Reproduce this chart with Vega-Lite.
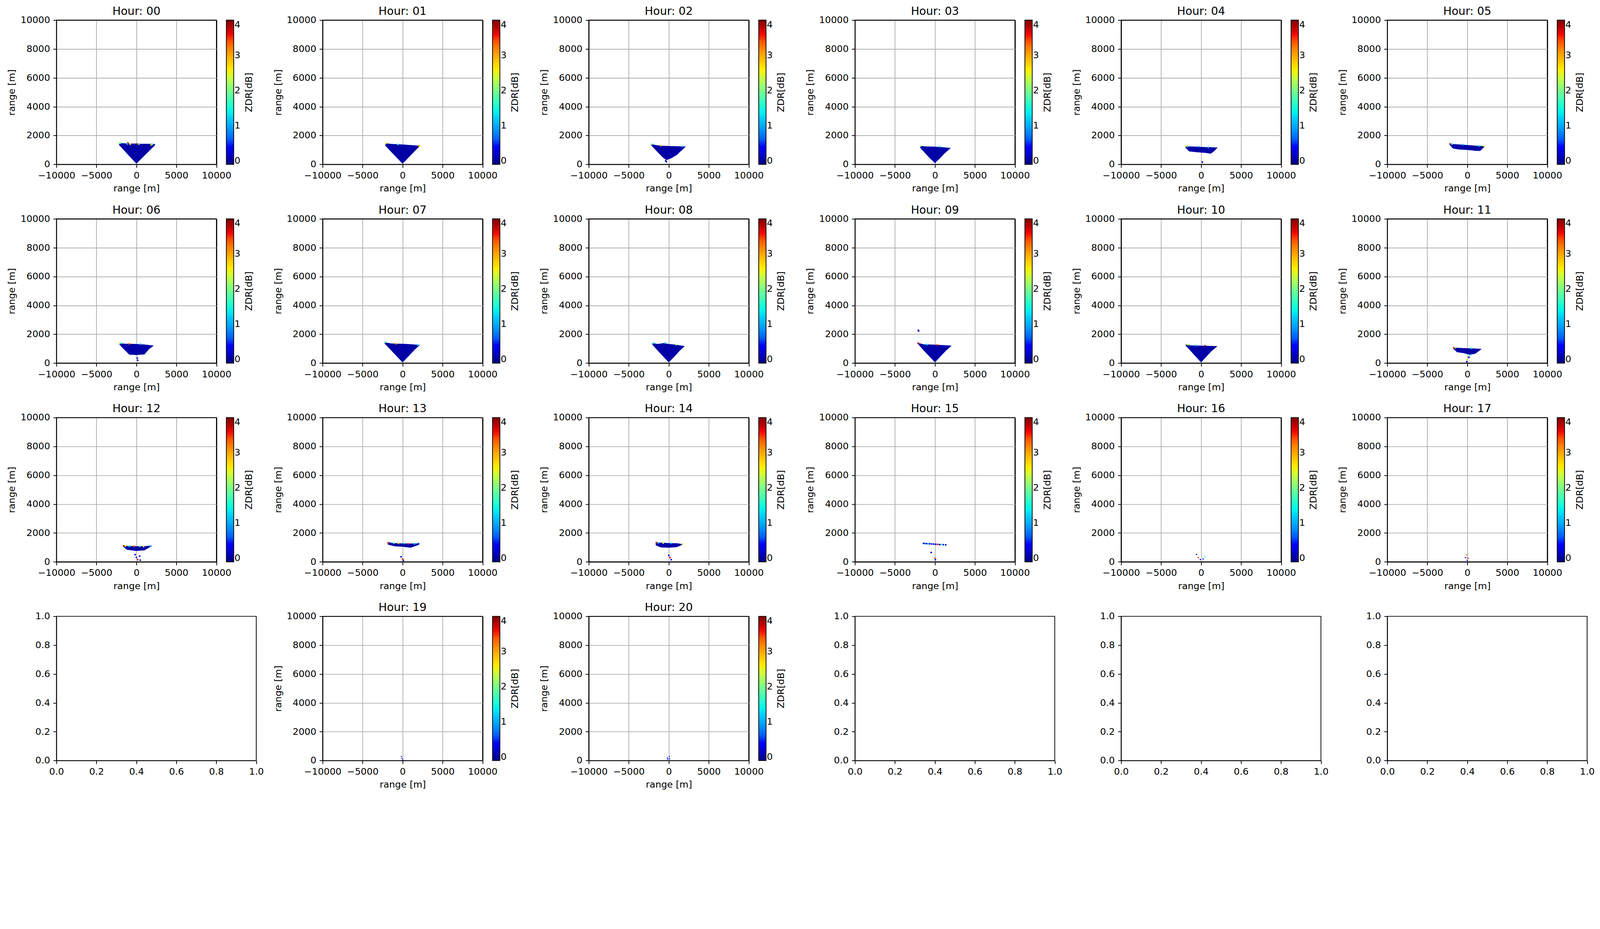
{
  "$schema": "https://vega.github.io/schema/vega-lite/v6.json",
  "background": "white",
  "padding": {"left": 17.5, "top": 13.5, "right": 0, "bottom": 0},
  "columns": 6,
  "align": "all",
  "spacing": {"row": 138.7, "column": 169.4},
  "bounds": "flush",
  "datasets": {
    "wedge": [
      {"h": "00", "x": -2170, "lo": 1340, "hi": 1480, "z": 0.04},
      {"h": "00", "x": -1800, "lo": 1120, "hi": 1470, "z": 0.04},
      {"h": "00", "x": -1200, "lo": 760, "hi": 1450, "z": 0.04},
      {"h": "00", "x": -600, "lo": 400, "hi": 1440, "z": 0.04},
      {"h": "00", "x": 0, "lo": 50, "hi": 1440, "z": 0.04},
      {"h": "00", "x": 600, "lo": 380, "hi": 1430, "z": 0.04},
      {"h": "00", "x": 1200, "lo": 710, "hi": 1430, "z": 0.04},
      {"h": "00", "x": 1800, "lo": 1040, "hi": 1420, "z": 0.04},
      {"h": "00", "x": 2320, "lo": 1330, "hi": 1410, "z": 0.04},
      {"h": "01", "x": -2170, "lo": 1300, "hi": 1470, "z": 0.04},
      {"h": "01", "x": -1500, "lo": 910, "hi": 1420, "z": 0.04},
      {"h": "01", "x": -750, "lo": 475, "hi": 1400, "z": 0.04},
      {"h": "01", "x": 0, "lo": 40, "hi": 1380, "z": 0.04},
      {"h": "01", "x": 750, "lo": 475, "hi": 1350, "z": 0.04},
      {"h": "01", "x": 1500, "lo": 910, "hi": 1320, "z": 0.04},
      {"h": "01", "x": 2140, "lo": 1270, "hi": 1290, "z": 0.04},
      {"h": "02", "x": -2210, "lo": 1330, "hi": 1410, "z": 0.04},
      {"h": "02", "x": -1500, "lo": 910, "hi": 1330, "z": 0.04},
      {"h": "02", "x": -750, "lo": 480, "hi": 1290, "z": 0.04},
      {"h": "02", "x": -300, "lo": 300, "hi": 1280, "z": 0.04},
      {"h": "02", "x": 300, "lo": 420, "hi": 1270, "z": 0.04},
      {"h": "02", "x": 1000, "lo": 650, "hi": 1260, "z": 0.04},
      {"h": "02", "x": 1600, "lo": 960, "hi": 1250, "z": 0.04},
      {"h": "02", "x": 2115, "lo": 1230, "hi": 1240, "z": 0.04},
      {"h": "03", "x": -1845, "lo": 1150, "hi": 1280, "z": 0.04},
      {"h": "03", "x": -1200, "lo": 760, "hi": 1250, "z": 0.04},
      {"h": "03", "x": -600, "lo": 400, "hi": 1240, "z": 0.04},
      {"h": "03", "x": 0, "lo": 100, "hi": 1230, "z": 0.04},
      {"h": "03", "x": 600, "lo": 400, "hi": 1210, "z": 0.04},
      {"h": "03", "x": 1200, "lo": 760, "hi": 1180, "z": 0.04},
      {"h": "03", "x": 1970, "lo": 1130, "hi": 1140, "z": 0.04},
      {"h": "04", "x": -1950, "lo": 1150, "hi": 1270, "z": 0.04},
      {"h": "04", "x": -1500, "lo": 900, "hi": 1250, "z": 0.04},
      {"h": "04", "x": -500, "lo": 840, "hi": 1230, "z": 0.04},
      {"h": "04", "x": 500, "lo": 800, "hi": 1200, "z": 0.04},
      {"h": "04", "x": 1200, "lo": 740, "hi": 1190, "z": 0.04},
      {"h": "04", "x": 1600, "lo": 900, "hi": 1180, "z": 0.04},
      {"h": "04", "x": 2016, "lo": 1130, "hi": 1170, "z": 0.04},
      {"h": "05", "x": -2200, "lo": 1350, "hi": 1430, "z": 0.04},
      {"h": "05", "x": -1800, "lo": 1100, "hi": 1410, "z": 0.04},
      {"h": "05", "x": -1000, "lo": 1030, "hi": 1380, "z": 0.04},
      {"h": "05", "x": 0, "lo": 1000, "hi": 1340, "z": 0.04},
      {"h": "05", "x": 1000, "lo": 940, "hi": 1300, "z": 0.04},
      {"h": "05", "x": 1600, "lo": 930, "hi": 1280, "z": 0.04},
      {"h": "05", "x": 2170, "lo": 1230, "hi": 1270, "z": 0.04},
      {"h": "06", "x": -2144, "lo": 1290, "hi": 1380, "z": 0.04},
      {"h": "06", "x": -1500, "lo": 920, "hi": 1350, "z": 0.04},
      {"h": "06", "x": -900, "lo": 590, "hi": 1340, "z": 0.04},
      {"h": "06", "x": 0, "lo": 560, "hi": 1330, "z": 0.04},
      {"h": "06", "x": 1000, "lo": 600, "hi": 1290, "z": 0.04},
      {"h": "06", "x": 1600, "lo": 980, "hi": 1250, "z": 0.04},
      {"h": "06", "x": 2144, "lo": 1200, "hi": 1220, "z": 0.04},
      {"h": "07", "x": -2265, "lo": 1370, "hi": 1450, "z": 0.04},
      {"h": "07", "x": -1500, "lo": 920, "hi": 1370, "z": 0.04},
      {"h": "07", "x": -750, "lo": 480, "hi": 1350, "z": 0.04},
      {"h": "07", "x": 0, "lo": 50, "hi": 1340, "z": 0.04},
      {"h": "07", "x": 750, "lo": 480, "hi": 1320, "z": 0.04},
      {"h": "07", "x": 1500, "lo": 920, "hi": 1290, "z": 0.04},
      {"h": "07", "x": 2140, "lo": 1250, "hi": 1260, "z": 0.04},
      {"h": "08", "x": -2050, "lo": 1280, "hi": 1400, "z": 0.04},
      {"h": "08", "x": -1400, "lo": 870, "hi": 1330, "z": 0.04},
      {"h": "08", "x": -600, "lo": 400, "hi": 1390, "z": 0.04},
      {"h": "08", "x": 0, "lo": 50, "hi": 1330, "z": 0.04},
      {"h": "08", "x": 700, "lo": 450, "hi": 1290, "z": 0.04},
      {"h": "08", "x": 1400, "lo": 870, "hi": 1230, "z": 0.04},
      {"h": "08", "x": 1990, "lo": 1170, "hi": 1180, "z": 0.04},
      {"h": "09", "x": -2100, "lo": 1310, "hi": 1400, "z": 0.04},
      {"h": "09", "x": -1400, "lo": 870, "hi": 1300, "z": 0.04},
      {"h": "09", "x": -700, "lo": 470, "hi": 1290, "z": 0.04},
      {"h": "09", "x": 0, "lo": 50, "hi": 1280, "z": 0.04},
      {"h": "09", "x": 700, "lo": 470, "hi": 1260, "z": 0.04},
      {"h": "09", "x": 1400, "lo": 870, "hi": 1240, "z": 0.04},
      {"h": "09", "x": 2070, "lo": 1200, "hi": 1215, "z": 0.04},
      {"h": "10", "x": -1920, "lo": 1200, "hi": 1300, "z": 0.04},
      {"h": "10", "x": -1300, "lo": 830, "hi": 1230, "z": 0.04},
      {"h": "10", "x": -650, "lo": 440, "hi": 1220, "z": 0.04},
      {"h": "10", "x": 0, "lo": 50, "hi": 1210, "z": 0.04},
      {"h": "10", "x": 650, "lo": 440, "hi": 1200, "z": 0.04},
      {"h": "10", "x": 1300, "lo": 830, "hi": 1190, "z": 0.04},
      {"h": "10", "x": 2016, "lo": 1160, "hi": 1176, "z": 0.04},
      {"h": "11", "x": -1755, "lo": 1000, "hi": 1080, "z": 0.04},
      {"h": "11", "x": -1300, "lo": 760, "hi": 1060, "z": 0.04},
      {"h": "11", "x": -500, "lo": 700, "hi": 1040, "z": 0.04},
      {"h": "11", "x": 300, "lo": 580, "hi": 1030, "z": 0.04},
      {"h": "11", "x": 1000, "lo": 650, "hi": 1010, "z": 0.04},
      {"h": "11", "x": 1755, "lo": 960, "hi": 990, "z": 0.04},
      {"h": "12", "x": -1660, "lo": 1060, "hi": 1120, "z": 0.04},
      {"h": "12", "x": -1200, "lo": 840, "hi": 1100, "z": 0.04},
      {"h": "12", "x": 0, "lo": 760, "hi": 1080, "z": 0.04},
      {"h": "12", "x": 1000, "lo": 800, "hi": 1090, "z": 0.04},
      {"h": "12", "x": 1890, "lo": 1080, "hi": 1130, "z": 0.04},
      {"h": "13", "x": -1850, "lo": 1200, "hi": 1330, "z": 0.04},
      {"h": "13", "x": -1000, "lo": 1080, "hi": 1300, "z": 0.04},
      {"h": "13", "x": 0, "lo": 1050, "hi": 1280, "z": 0.04},
      {"h": "13", "x": 1000, "lo": 980, "hi": 1270, "z": 0.04},
      {"h": "13", "x": 2070, "lo": 1180, "hi": 1280, "z": 0.04},
      {"h": "14", "x": -1630, "lo": 1150, "hi": 1350, "z": 0.04},
      {"h": "14", "x": -1000, "lo": 1000, "hi": 1330, "z": 0.04},
      {"h": "14", "x": 0, "lo": 980, "hi": 1300, "z": 0.04},
      {"h": "14", "x": 1000, "lo": 1020, "hi": 1290, "z": 0.04},
      {"h": "14", "x": 1730, "lo": 1180, "hi": 1230, "z": 0.04}
    ],
    "spk": [
      {"h": "00", "x": -2127, "y": 1470, "z": 2.3},
      {"h": "00", "x": -1988, "y": 1480, "z": 1.7},
      {"h": "00", "x": -1070, "y": 1480, "z": 3.9},
      {"h": "00", "x": -778, "y": 1400, "z": 2.6},
      {"h": "00", "x": -1154, "y": 1420, "z": 1.2},
      {"h": "00", "x": 97, "y": 1410, "z": 3.7},
      {"h": "00", "x": 306, "y": 1400, "z": 1.8},
      {"h": "00", "x": 1835, "y": 1350, "z": 2.7},
      {"h": "00", "x": 2000, "y": 1390, "z": 1.4},
      {"h": "01", "x": -2100, "y": 1450, "z": 2.5},
      {"h": "01", "x": -600, "y": 1390, "z": 1.5},
      {"h": "01", "x": 2050, "y": 1280, "z": 3.4},
      {"h": "01", "x": 2120, "y": 1285, "z": 2.8},
      {"h": "02", "x": -2150, "y": 1400, "z": 1.9},
      {"h": "02", "x": -1000, "y": 1300, "z": 3.0},
      {"h": "02", "x": 1700, "y": 1250, "z": 1.2},
      {"h": "02", "x": -385, "y": 255, "z": 0.2},
      {"h": "02", "x": -300, "y": 180, "z": 0.1},
      {"h": "03", "x": -1800, "y": 1270, "z": 2.0},
      {"h": "03", "x": 600, "y": 1220, "z": 1.3},
      {"h": "03", "x": 30, "y": 150, "z": 0.2},
      {"h": "04", "x": -1900, "y": 1260, "z": 2.6},
      {"h": "04", "x": -1700, "y": 1250, "z": 1.6},
      {"h": "04", "x": -300, "y": 1230, "z": 0.9},
      {"h": "04", "x": 160, "y": 157, "z": 0.2},
      {"h": "04", "x": 900, "y": 1190, "z": 1.3},
      {"h": "05", "x": -2150, "y": 1420, "z": 3.6},
      {"h": "05", "x": -1900, "y": 1410, "z": 1.4},
      {"h": "05", "x": -500, "y": 1370, "z": 1.1},
      {"h": "05", "x": 1500, "y": 1290, "z": 1.5},
      {"h": "05", "x": 2100, "y": 1270, "z": 2.4},
      {"h": "06", "x": -2100, "y": 1370, "z": 2.4},
      {"h": "06", "x": -1950, "y": 1370, "z": 1.4},
      {"h": "06", "x": -900, "y": 1340, "z": 3.3},
      {"h": "06", "x": 500, "y": 1320, "z": 1.2},
      {"h": "06", "x": 160, "y": 200, "z": 0.3},
      {"h": "06", "x": 100, "y": 350, "z": 0.2},
      {"h": "07", "x": -2200, "y": 1440, "z": 1.6},
      {"h": "07", "x": -800, "y": 1350, "z": 2.9},
      {"h": "07", "x": 1900, "y": 1260, "z": 1.3},
      {"h": "08", "x": -1900, "y": 1390, "z": 1.5},
      {"h": "08", "x": -500, "y": 1390, "z": 1.1},
      {"h": "08", "x": 900, "y": 1290, "z": 2.2},
      {"h": "09", "x": -2100, "y": 1380, "z": 3.8},
      {"h": "09", "x": -2067, "y": 2274, "z": 0.3},
      {"h": "09", "x": -2040, "y": 2230, "z": 0.2},
      {"h": "09", "x": -1000, "y": 1290, "z": 1.4},
      {"h": "09", "x": 300, "y": 1270, "z": 3.4},
      {"h": "10", "x": -1700, "y": 1290, "z": 2.6},
      {"h": "10", "x": -1500, "y": 1270, "z": 1.9},
      {"h": "10", "x": 500, "y": 1200, "z": 3.8},
      {"h": "10", "x": -600, "y": 1220, "z": 1.2},
      {"h": "11", "x": -1700, "y": 1075, "z": 3.5},
      {"h": "11", "x": -1500, "y": 1065, "z": 2.0},
      {"h": "11", "x": 500, "y": 1030, "z": 1.6},
      {"h": "11", "x": -64, "y": 250, "z": 2.5},
      {"h": "11", "x": -64, "y": 100, "z": 0.3},
      {"h": "11", "x": 200, "y": 400, "z": 0.2},
      {"h": "11", "x": 300, "y": 550, "z": 1.4},
      {"h": "12", "x": -1600, "y": 1110, "z": 3.8},
      {"h": "12", "x": -1400, "y": 1100, "z": 2.6},
      {"h": "12", "x": -900, "y": 1090, "z": 1.5},
      {"h": "12", "x": -300, "y": 1085, "z": 3.3},
      {"h": "12", "x": 400, "y": 1080, "z": 1.8},
      {"h": "12", "x": 900, "y": 1060, "z": 2.4},
      {"h": "12", "x": 1700, "y": 1110, "z": 1.2},
      {"h": "12", "x": -160, "y": 500, "z": 0.3},
      {"h": "12", "x": 0, "y": 300, "z": 0.2},
      {"h": "12", "x": 160, "y": 150, "z": 3.6},
      {"h": "12", "x": 400, "y": 400, "z": 0.3},
      {"h": "12", "x": 480, "y": 120, "z": 0.2},
      {"h": "13", "x": -1800, "y": 1320, "z": 3.7},
      {"h": "13", "x": -1600, "y": 1300, "z": 0.3},
      {"h": "13", "x": -1100, "y": 1290, "z": 1.6},
      {"h": "13", "x": -500, "y": 1280, "z": 2.9},
      {"h": "13", "x": 200, "y": 1270, "z": 1.3},
      {"h": "13", "x": 700, "y": 1260, "z": 3.4},
      {"h": "13", "x": 1500, "y": 1250, "z": 1.2},
      {"h": "13", "x": 2000, "y": 1270, "z": 0.5},
      {"h": "13", "x": -190, "y": 350, "z": 0.3},
      {"h": "13", "x": 0, "y": 200, "z": 3.5},
      {"h": "13", "x": 95, "y": 100, "z": 0.2},
      {"h": "14", "x": -1550, "y": 1330, "z": 3.7},
      {"h": "14", "x": -1300, "y": 1320, "z": 1.5},
      {"h": "14", "x": -700, "y": 1300, "z": 2.3},
      {"h": "14", "x": 300, "y": 1290, "z": 1.2},
      {"h": "14", "x": 1700, "y": 1220, "z": 2.8},
      {"h": "14", "x": 0, "y": 450, "z": 0.3},
      {"h": "14", "x": 150, "y": 300, "z": 3.6},
      {"h": "14", "x": 300, "y": 150, "z": 0.2},
      {"h": "15", "x": -1430, "y": 1280, "z": 0.3},
      {"h": "15", "x": -1250, "y": 1270, "z": 0.6},
      {"h": "15", "x": -1050, "y": 1265, "z": 0.2},
      {"h": "15", "x": -850, "y": 1260, "z": 1.3},
      {"h": "15", "x": -650, "y": 1250, "z": 0.1},
      {"h": "15", "x": -400, "y": 1240, "z": 0.4},
      {"h": "15", "x": -150, "y": 1230, "z": 0.2},
      {"h": "15", "x": 100, "y": 1220, "z": 0.3},
      {"h": "15", "x": 350, "y": 1210, "z": 3.7},
      {"h": "15", "x": 600, "y": 1200, "z": 0.1},
      {"h": "15", "x": 800, "y": 1200, "z": 1.6},
      {"h": "15", "x": 1050, "y": 1190, "z": 0.3},
      {"h": "15", "x": 1350, "y": 1180, "z": 0.2},
      {"h": "15", "x": -477, "y": 650, "z": 0.2},
      {"h": "15", "x": 0, "y": 255, "z": 3.4},
      {"h": "15", "x": 60, "y": 150, "z": 0.3},
      {"h": "16", "x": -576, "y": 510, "z": 0.1},
      {"h": "16", "x": -352, "y": 294, "z": 3.6},
      {"h": "16", "x": -96, "y": 157, "z": 0.3},
      {"h": "16", "x": 480, "y": 353, "z": 1.5},
      {"h": "16", "x": 250, "y": 200, "z": 0.2},
      {"h": "17", "x": -64, "y": 490, "z": 3.3},
      {"h": "17", "x": 96, "y": 255, "z": 3.7},
      {"h": "17", "x": -223, "y": 294, "z": 0.2},
      {"h": "17", "x": 0, "y": 100, "z": 0.3},
      {"h": "19", "x": -150, "y": 280, "z": 0.3},
      {"h": "19", "x": -60, "y": 150, "z": 0.2},
      {"h": "19", "x": 30, "y": 40, "z": 0.4},
      {"h": "20", "x": -170, "y": 180, "z": 0.3},
      {"h": "20", "x": -120, "y": 100, "z": 0.2},
      {"h": "20", "x": 80, "y": 280, "z": 0.4},
      {"h": "20", "x": 110, "y": 120, "z": 0.3}
    ]
  },
  "concat": [
    {"title": "Hour: 00", "width": 409.5, "height": 369.3,
     "encoding": {
       "x": {"field": "x", "type": "quantitative", "title": "range [m]", "scale": {"domain": [-10000, 10000]}, "axis": {"values": [-10000, -5000, 0, 5000, 10000], "format": "d", "gridColor": {"condition": {"test": "abs(datum.value) == 10000", "value": "black"}, "value": "#b0b0b0"}}},
       "color": {"field": "z", "type": "quantitative", "scale": {"domain": [-0.1, 0.351, 0.4125, 1.294, 1.335, 1.4375, 2.524, 2.565, 2.606, 3.549, 3.631, 4], "range": ["#000080", "#0000ff", "#0000ff", "#00dbff", "#00e5f7", "#14ffe2", "#eeff08", "#f7f500", "#ffec00", "#ff1300", "#e80000", "#800000"]}, "legend": {"title": "ZDR[dB]", "values": [0, 1, 2, 3, 4], "format": "d", "encoding": {"title": {"angle": {"value": 270}, "baseline": {"value": "top"}}}}}
     },
     "layer": [
       {"data": {"name": "wedge"}, "transform": [{"filter": "datum.h == '00'"}], "mark": "area",
        "encoding": {"y": {"field": "lo", "type": "quantitative", "title": "range [m]", "scale": {"domain": [0, 10000]}, "axis": {"values": [0, 2000, 4000, 6000, 8000, 10000], "format": "d", "gridColor": {"condition": {"test": "datum.value == 0 || datum.value == 10000", "value": "black"}, "value": "#b0b0b0"}}}, "y2": {"field": "hi"}}},
       {"data": {"name": "spk"}, "transform": [{"filter": "datum.h == '00'"}], "mark": {"type": "square", "size": 15, "opacity": 1},
        "encoding": {"y": {"field": "y", "type": "quantitative", "title": "range [m]"}}}
     ]},
    {"title": "Hour: 01", "width": 409.5, "height": 369.3,
     "encoding": {
       "x": {"field": "x", "type": "quantitative", "title": "range [m]", "scale": {"domain": [-10000, 10000]}, "axis": {"values": [-10000, -5000, 0, 5000, 10000], "format": "d", "gridColor": {"condition": {"test": "abs(datum.value) == 10000", "value": "black"}, "value": "#b0b0b0"}}},
       "color": {"field": "z", "type": "quantitative", "scale": {"domain": [-0.1, 0.351, 0.4125, 1.294, 1.335, 1.4375, 2.524, 2.565, 2.606, 3.549, 3.631, 4], "range": ["#000080", "#0000ff", "#0000ff", "#00dbff", "#00e5f7", "#14ffe2", "#eeff08", "#f7f500", "#ffec00", "#ff1300", "#e80000", "#800000"]}, "legend": {"title": "ZDR[dB]", "values": [0, 1, 2, 3, 4], "format": "d", "encoding": {"title": {"angle": {"value": 270}, "baseline": {"value": "top"}}}}}
     },
     "layer": [
       {"data": {"name": "wedge"}, "transform": [{"filter": "datum.h == '01'"}], "mark": "area",
        "encoding": {"y": {"field": "lo", "type": "quantitative", "title": "range [m]", "scale": {"domain": [0, 10000]}, "axis": {"values": [0, 2000, 4000, 6000, 8000, 10000], "format": "d", "gridColor": {"condition": {"test": "datum.value == 0 || datum.value == 10000", "value": "black"}, "value": "#b0b0b0"}}}, "y2": {"field": "hi"}}},
       {"data": {"name": "spk"}, "transform": [{"filter": "datum.h == '01'"}], "mark": {"type": "square", "size": 15, "opacity": 1},
        "encoding": {"y": {"field": "y", "type": "quantitative", "title": "range [m]"}}}
     ]},
    {"title": "Hour: 02", "width": 409.5, "height": 369.3,
     "encoding": {
       "x": {"field": "x", "type": "quantitative", "title": "range [m]", "scale": {"domain": [-10000, 10000]}, "axis": {"values": [-10000, -5000, 0, 5000, 10000], "format": "d", "gridColor": {"condition": {"test": "abs(datum.value) == 10000", "value": "black"}, "value": "#b0b0b0"}}},
       "color": {"field": "z", "type": "quantitative", "scale": {"domain": [-0.1, 0.351, 0.4125, 1.294, 1.335, 1.4375, 2.524, 2.565, 2.606, 3.549, 3.631, 4], "range": ["#000080", "#0000ff", "#0000ff", "#00dbff", "#00e5f7", "#14ffe2", "#eeff08", "#f7f500", "#ffec00", "#ff1300", "#e80000", "#800000"]}, "legend": {"title": "ZDR[dB]", "values": [0, 1, 2, 3, 4], "format": "d", "encoding": {"title": {"angle": {"value": 270}, "baseline": {"value": "top"}}}}}
     },
     "layer": [
       {"data": {"name": "wedge"}, "transform": [{"filter": "datum.h == '02'"}], "mark": "area",
        "encoding": {"y": {"field": "lo", "type": "quantitative", "title": "range [m]", "scale": {"domain": [0, 10000]}, "axis": {"values": [0, 2000, 4000, 6000, 8000, 10000], "format": "d", "gridColor": {"condition": {"test": "datum.value == 0 || datum.value == 10000", "value": "black"}, "value": "#b0b0b0"}}}, "y2": {"field": "hi"}}},
       {"data": {"name": "spk"}, "transform": [{"filter": "datum.h == '02'"}], "mark": {"type": "square", "size": 15, "opacity": 1},
        "encoding": {"y": {"field": "y", "type": "quantitative", "title": "range [m]"}}}
     ]},
    {"title": "Hour: 03", "width": 409.5, "height": 369.3,
     "encoding": {
       "x": {"field": "x", "type": "quantitative", "title": "range [m]", "scale": {"domain": [-10000, 10000]}, "axis": {"values": [-10000, -5000, 0, 5000, 10000], "format": "d", "gridColor": {"condition": {"test": "abs(datum.value) == 10000", "value": "black"}, "value": "#b0b0b0"}}},
       "color": {"field": "z", "type": "quantitative", "scale": {"domain": [-0.1, 0.351, 0.4125, 1.294, 1.335, 1.4375, 2.524, 2.565, 2.606, 3.549, 3.631, 4], "range": ["#000080", "#0000ff", "#0000ff", "#00dbff", "#00e5f7", "#14ffe2", "#eeff08", "#f7f500", "#ffec00", "#ff1300", "#e80000", "#800000"]}, "legend": {"title": "ZDR[dB]", "values": [0, 1, 2, 3, 4], "format": "d", "encoding": {"title": {"angle": {"value": 270}, "baseline": {"value": "top"}}}}}
     },
     "layer": [
       {"data": {"name": "wedge"}, "transform": [{"filter": "datum.h == '03'"}], "mark": "area",
        "encoding": {"y": {"field": "lo", "type": "quantitative", "title": "range [m]", "scale": {"domain": [0, 10000]}, "axis": {"values": [0, 2000, 4000, 6000, 8000, 10000], "format": "d", "gridColor": {"condition": {"test": "datum.value == 0 || datum.value == 10000", "value": "black"}, "value": "#b0b0b0"}}}, "y2": {"field": "hi"}}},
       {"data": {"name": "spk"}, "transform": [{"filter": "datum.h == '03'"}], "mark": {"type": "square", "size": 15, "opacity": 1},
        "encoding": {"y": {"field": "y", "type": "quantitative", "title": "range [m]"}}}
     ]},
    {"title": "Hour: 04", "width": 409.5, "height": 369.3,
     "encoding": {
       "x": {"field": "x", "type": "quantitative", "title": "range [m]", "scale": {"domain": [-10000, 10000]}, "axis": {"values": [-10000, -5000, 0, 5000, 10000], "format": "d", "gridColor": {"condition": {"test": "abs(datum.value) == 10000", "value": "black"}, "value": "#b0b0b0"}}},
       "color": {"field": "z", "type": "quantitative", "scale": {"domain": [-0.1, 0.351, 0.4125, 1.294, 1.335, 1.4375, 2.524, 2.565, 2.606, 3.549, 3.631, 4], "range": ["#000080", "#0000ff", "#0000ff", "#00dbff", "#00e5f7", "#14ffe2", "#eeff08", "#f7f500", "#ffec00", "#ff1300", "#e80000", "#800000"]}, "legend": {"title": "ZDR[dB]", "values": [0, 1, 2, 3, 4], "format": "d", "encoding": {"title": {"angle": {"value": 270}, "baseline": {"value": "top"}}}}}
     },
     "layer": [
       {"data": {"name": "wedge"}, "transform": [{"filter": "datum.h == '04'"}], "mark": "area",
        "encoding": {"y": {"field": "lo", "type": "quantitative", "title": "range [m]", "scale": {"domain": [0, 10000]}, "axis": {"values": [0, 2000, 4000, 6000, 8000, 10000], "format": "d", "gridColor": {"condition": {"test": "datum.value == 0 || datum.value == 10000", "value": "black"}, "value": "#b0b0b0"}}}, "y2": {"field": "hi"}}},
       {"data": {"name": "spk"}, "transform": [{"filter": "datum.h == '04'"}], "mark": {"type": "square", "size": 15, "opacity": 1},
        "encoding": {"y": {"field": "y", "type": "quantitative", "title": "range [m]"}}}
     ]},
    {"title": "Hour: 05", "width": 409.5, "height": 369.3,
     "encoding": {
       "x": {"field": "x", "type": "quantitative", "title": "range [m]", "scale": {"domain": [-10000, 10000]}, "axis": {"values": [-10000, -5000, 0, 5000, 10000], "format": "d", "gridColor": {"condition": {"test": "abs(datum.value) == 10000", "value": "black"}, "value": "#b0b0b0"}}},
       "color": {"field": "z", "type": "quantitative", "scale": {"domain": [-0.1, 0.351, 0.4125, 1.294, 1.335, 1.4375, 2.524, 2.565, 2.606, 3.549, 3.631, 4], "range": ["#000080", "#0000ff", "#0000ff", "#00dbff", "#00e5f7", "#14ffe2", "#eeff08", "#f7f500", "#ffec00", "#ff1300", "#e80000", "#800000"]}, "legend": {"title": "ZDR[dB]", "values": [0, 1, 2, 3, 4], "format": "d", "encoding": {"title": {"angle": {"value": 270}, "baseline": {"value": "top"}}}}}
     },
     "layer": [
       {"data": {"name": "wedge"}, "transform": [{"filter": "datum.h == '05'"}], "mark": "area",
        "encoding": {"y": {"field": "lo", "type": "quantitative", "title": "range [m]", "scale": {"domain": [0, 10000]}, "axis": {"values": [0, 2000, 4000, 6000, 8000, 10000], "format": "d", "gridColor": {"condition": {"test": "datum.value == 0 || datum.value == 10000", "value": "black"}, "value": "#b0b0b0"}}}, "y2": {"field": "hi"}}},
       {"data": {"name": "spk"}, "transform": [{"filter": "datum.h == '05'"}], "mark": {"type": "square", "size": 15, "opacity": 1},
        "encoding": {"y": {"field": "y", "type": "quantitative", "title": "range [m]"}}}
     ]},
    {"title": "Hour: 06", "width": 409.5, "height": 369.3,
     "encoding": {
       "x": {"field": "x", "type": "quantitative", "title": "range [m]", "scale": {"domain": [-10000, 10000]}, "axis": {"values": [-10000, -5000, 0, 5000, 10000], "format": "d", "gridColor": {"condition": {"test": "abs(datum.value) == 10000", "value": "black"}, "value": "#b0b0b0"}}},
       "color": {"field": "z", "type": "quantitative", "scale": {"domain": [-0.1, 0.351, 0.4125, 1.294, 1.335, 1.4375, 2.524, 2.565, 2.606, 3.549, 3.631, 4], "range": ["#000080", "#0000ff", "#0000ff", "#00dbff", "#00e5f7", "#14ffe2", "#eeff08", "#f7f500", "#ffec00", "#ff1300", "#e80000", "#800000"]}, "legend": {"title": "ZDR[dB]", "values": [0, 1, 2, 3, 4], "format": "d", "encoding": {"title": {"angle": {"value": 270}, "baseline": {"value": "top"}}}}}
     },
     "layer": [
       {"data": {"name": "wedge"}, "transform": [{"filter": "datum.h == '06'"}], "mark": "area",
        "encoding": {"y": {"field": "lo", "type": "quantitative", "title": "range [m]", "scale": {"domain": [0, 10000]}, "axis": {"values": [0, 2000, 4000, 6000, 8000, 10000], "format": "d", "gridColor": {"condition": {"test": "datum.value == 0 || datum.value == 10000", "value": "black"}, "value": "#b0b0b0"}}}, "y2": {"field": "hi"}}},
       {"data": {"name": "spk"}, "transform": [{"filter": "datum.h == '06'"}], "mark": {"type": "square", "size": 15, "opacity": 1},
        "encoding": {"y": {"field": "y", "type": "quantitative", "title": "range [m]"}}}
     ]},
    {"title": "Hour: 07", "width": 409.5, "height": 369.3,
     "encoding": {
       "x": {"field": "x", "type": "quantitative", "title": "range [m]", "scale": {"domain": [-10000, 10000]}, "axis": {"values": [-10000, -5000, 0, 5000, 10000], "format": "d", "gridColor": {"condition": {"test": "abs(datum.value) == 10000", "value": "black"}, "value": "#b0b0b0"}}},
       "color": {"field": "z", "type": "quantitative", "scale": {"domain": [-0.1, 0.351, 0.4125, 1.294, 1.335, 1.4375, 2.524, 2.565, 2.606, 3.549, 3.631, 4], "range": ["#000080", "#0000ff", "#0000ff", "#00dbff", "#00e5f7", "#14ffe2", "#eeff08", "#f7f500", "#ffec00", "#ff1300", "#e80000", "#800000"]}, "legend": {"title": "ZDR[dB]", "values": [0, 1, 2, 3, 4], "format": "d", "encoding": {"title": {"angle": {"value": 270}, "baseline": {"value": "top"}}}}}
     },
     "layer": [
       {"data": {"name": "wedge"}, "transform": [{"filter": "datum.h == '07'"}], "mark": "area",
        "encoding": {"y": {"field": "lo", "type": "quantitative", "title": "range [m]", "scale": {"domain": [0, 10000]}, "axis": {"values": [0, 2000, 4000, 6000, 8000, 10000], "format": "d", "gridColor": {"condition": {"test": "datum.value == 0 || datum.value == 10000", "value": "black"}, "value": "#b0b0b0"}}}, "y2": {"field": "hi"}}},
       {"data": {"name": "spk"}, "transform": [{"filter": "datum.h == '07'"}], "mark": {"type": "square", "size": 15, "opacity": 1},
        "encoding": {"y": {"field": "y", "type": "quantitative", "title": "range [m]"}}}
     ]},
    {"title": "Hour: 08", "width": 409.5, "height": 369.3,
     "encoding": {
       "x": {"field": "x", "type": "quantitative", "title": "range [m]", "scale": {"domain": [-10000, 10000]}, "axis": {"values": [-10000, -5000, 0, 5000, 10000], "format": "d", "gridColor": {"condition": {"test": "abs(datum.value) == 10000", "value": "black"}, "value": "#b0b0b0"}}},
       "color": {"field": "z", "type": "quantitative", "scale": {"domain": [-0.1, 0.351, 0.4125, 1.294, 1.335, 1.4375, 2.524, 2.565, 2.606, 3.549, 3.631, 4], "range": ["#000080", "#0000ff", "#0000ff", "#00dbff", "#00e5f7", "#14ffe2", "#eeff08", "#f7f500", "#ffec00", "#ff1300", "#e80000", "#800000"]}, "legend": {"title": "ZDR[dB]", "values": [0, 1, 2, 3, 4], "format": "d", "encoding": {"title": {"angle": {"value": 270}, "baseline": {"value": "top"}}}}}
     },
     "layer": [
       {"data": {"name": "wedge"}, "transform": [{"filter": "datum.h == '08'"}], "mark": "area",
        "encoding": {"y": {"field": "lo", "type": "quantitative", "title": "range [m]", "scale": {"domain": [0, 10000]}, "axis": {"values": [0, 2000, 4000, 6000, 8000, 10000], "format": "d", "gridColor": {"condition": {"test": "datum.value == 0 || datum.value == 10000", "value": "black"}, "value": "#b0b0b0"}}}, "y2": {"field": "hi"}}},
       {"data": {"name": "spk"}, "transform": [{"filter": "datum.h == '08'"}], "mark": {"type": "square", "size": 15, "opacity": 1},
        "encoding": {"y": {"field": "y", "type": "quantitative", "title": "range [m]"}}}
     ]},
    {"title": "Hour: 09", "width": 409.5, "height": 369.3,
     "encoding": {
       "x": {"field": "x", "type": "quantitative", "title": "range [m]", "scale": {"domain": [-10000, 10000]}, "axis": {"values": [-10000, -5000, 0, 5000, 10000], "format": "d", "gridColor": {"condition": {"test": "abs(datum.value) == 10000", "value": "black"}, "value": "#b0b0b0"}}},
       "color": {"field": "z", "type": "quantitative", "scale": {"domain": [-0.1, 0.351, 0.4125, 1.294, 1.335, 1.4375, 2.524, 2.565, 2.606, 3.549, 3.631, 4], "range": ["#000080", "#0000ff", "#0000ff", "#00dbff", "#00e5f7", "#14ffe2", "#eeff08", "#f7f500", "#ffec00", "#ff1300", "#e80000", "#800000"]}, "legend": {"title": "ZDR[dB]", "values": [0, 1, 2, 3, 4], "format": "d", "encoding": {"title": {"angle": {"value": 270}, "baseline": {"value": "top"}}}}}
     },
     "layer": [
       {"data": {"name": "wedge"}, "transform": [{"filter": "datum.h == '09'"}], "mark": "area",
        "encoding": {"y": {"field": "lo", "type": "quantitative", "title": "range [m]", "scale": {"domain": [0, 10000]}, "axis": {"values": [0, 2000, 4000, 6000, 8000, 10000], "format": "d", "gridColor": {"condition": {"test": "datum.value == 0 || datum.value == 10000", "value": "black"}, "value": "#b0b0b0"}}}, "y2": {"field": "hi"}}},
       {"data": {"name": "spk"}, "transform": [{"filter": "datum.h == '09'"}], "mark": {"type": "square", "size": 15, "opacity": 1},
        "encoding": {"y": {"field": "y", "type": "quantitative", "title": "range [m]"}}}
     ]},
    {"title": "Hour: 10", "width": 409.5, "height": 369.3,
     "encoding": {
       "x": {"field": "x", "type": "quantitative", "title": "range [m]", "scale": {"domain": [-10000, 10000]}, "axis": {"values": [-10000, -5000, 0, 5000, 10000], "format": "d", "gridColor": {"condition": {"test": "abs(datum.value) == 10000", "value": "black"}, "value": "#b0b0b0"}}},
       "color": {"field": "z", "type": "quantitative", "scale": {"domain": [-0.1, 0.351, 0.4125, 1.294, 1.335, 1.4375, 2.524, 2.565, 2.606, 3.549, 3.631, 4], "range": ["#000080", "#0000ff", "#0000ff", "#00dbff", "#00e5f7", "#14ffe2", "#eeff08", "#f7f500", "#ffec00", "#ff1300", "#e80000", "#800000"]}, "legend": {"title": "ZDR[dB]", "values": [0, 1, 2, 3, 4], "format": "d", "encoding": {"title": {"angle": {"value": 270}, "baseline": {"value": "top"}}}}}
     },
     "layer": [
       {"data": {"name": "wedge"}, "transform": [{"filter": "datum.h == '10'"}], "mark": "area",
        "encoding": {"y": {"field": "lo", "type": "quantitative", "title": "range [m]", "scale": {"domain": [0, 10000]}, "axis": {"values": [0, 2000, 4000, 6000, 8000, 10000], "format": "d", "gridColor": {"condition": {"test": "datum.value == 0 || datum.value == 10000", "value": "black"}, "value": "#b0b0b0"}}}, "y2": {"field": "hi"}}},
       {"data": {"name": "spk"}, "transform": [{"filter": "datum.h == '10'"}], "mark": {"type": "square", "size": 15, "opacity": 1},
        "encoding": {"y": {"field": "y", "type": "quantitative", "title": "range [m]"}}}
     ]},
    {"title": "Hour: 11", "width": 409.5, "height": 369.3,
     "encoding": {
       "x": {"field": "x", "type": "quantitative", "title": "range [m]", "scale": {"domain": [-10000, 10000]}, "axis": {"values": [-10000, -5000, 0, 5000, 10000], "format": "d", "gridColor": {"condition": {"test": "abs(datum.value) == 10000", "value": "black"}, "value": "#b0b0b0"}}},
       "color": {"field": "z", "type": "quantitative", "scale": {"domain": [-0.1, 0.351, 0.4125, 1.294, 1.335, 1.4375, 2.524, 2.565, 2.606, 3.549, 3.631, 4], "range": ["#000080", "#0000ff", "#0000ff", "#00dbff", "#00e5f7", "#14ffe2", "#eeff08", "#f7f500", "#ffec00", "#ff1300", "#e80000", "#800000"]}, "legend": {"title": "ZDR[dB]", "values": [0, 1, 2, 3, 4], "format": "d", "encoding": {"title": {"angle": {"value": 270}, "baseline": {"value": "top"}}}}}
     },
     "layer": [
       {"data": {"name": "wedge"}, "transform": [{"filter": "datum.h == '11'"}], "mark": "area",
        "encoding": {"y": {"field": "lo", "type": "quantitative", "title": "range [m]", "scale": {"domain": [0, 10000]}, "axis": {"values": [0, 2000, 4000, 6000, 8000, 10000], "format": "d", "gridColor": {"condition": {"test": "datum.value == 0 || datum.value == 10000", "value": "black"}, "value": "#b0b0b0"}}}, "y2": {"field": "hi"}}},
       {"data": {"name": "spk"}, "transform": [{"filter": "datum.h == '11'"}], "mark": {"type": "square", "size": 15, "opacity": 1},
        "encoding": {"y": {"field": "y", "type": "quantitative", "title": "range [m]"}}}
     ]},
    {"title": "Hour: 12", "width": 409.5, "height": 369.3,
     "encoding": {
       "x": {"field": "x", "type": "quantitative", "title": "range [m]", "scale": {"domain": [-10000, 10000]}, "axis": {"values": [-10000, -5000, 0, 5000, 10000], "format": "d", "gridColor": {"condition": {"test": "abs(datum.value) == 10000", "value": "black"}, "value": "#b0b0b0"}}},
       "color": {"field": "z", "type": "quantitative", "scale": {"domain": [-0.1, 0.351, 0.4125, 1.294, 1.335, 1.4375, 2.524, 2.565, 2.606, 3.549, 3.631, 4], "range": ["#000080", "#0000ff", "#0000ff", "#00dbff", "#00e5f7", "#14ffe2", "#eeff08", "#f7f500", "#ffec00", "#ff1300", "#e80000", "#800000"]}, "legend": {"title": "ZDR[dB]", "values": [0, 1, 2, 3, 4], "format": "d", "encoding": {"title": {"angle": {"value": 270}, "baseline": {"value": "top"}}}}}
     },
     "layer": [
       {"data": {"name": "wedge"}, "transform": [{"filter": "datum.h == '12'"}], "mark": "area",
        "encoding": {"y": {"field": "lo", "type": "quantitative", "title": "range [m]", "scale": {"domain": [0, 10000]}, "axis": {"values": [0, 2000, 4000, 6000, 8000, 10000], "format": "d", "gridColor": {"condition": {"test": "datum.value == 0 || datum.value == 10000", "value": "black"}, "value": "#b0b0b0"}}}, "y2": {"field": "hi"}}},
       {"data": {"name": "spk"}, "transform": [{"filter": "datum.h == '12'"}], "mark": {"type": "square", "size": 15, "opacity": 1},
        "encoding": {"y": {"field": "y", "type": "quantitative", "title": "range [m]"}}}
     ]},
    {"title": "Hour: 13", "width": 409.5, "height": 369.3,
     "encoding": {
       "x": {"field": "x", "type": "quantitative", "title": "range [m]", "scale": {"domain": [-10000, 10000]}, "axis": {"values": [-10000, -5000, 0, 5000, 10000], "format": "d", "gridColor": {"condition": {"test": "abs(datum.value) == 10000", "value": "black"}, "value": "#b0b0b0"}}},
       "color": {"field": "z", "type": "quantitative", "scale": {"domain": [-0.1, 0.351, 0.4125, 1.294, 1.335, 1.4375, 2.524, 2.565, 2.606, 3.549, 3.631, 4], "range": ["#000080", "#0000ff", "#0000ff", "#00dbff", "#00e5f7", "#14ffe2", "#eeff08", "#f7f500", "#ffec00", "#ff1300", "#e80000", "#800000"]}, "legend": {"title": "ZDR[dB]", "values": [0, 1, 2, 3, 4], "format": "d", "encoding": {"title": {"angle": {"value": 270}, "baseline": {"value": "top"}}}}}
     },
     "layer": [
       {"data": {"name": "wedge"}, "transform": [{"filter": "datum.h == '13'"}], "mark": "area",
        "encoding": {"y": {"field": "lo", "type": "quantitative", "title": "range [m]", "scale": {"domain": [0, 10000]}, "axis": {"values": [0, 2000, 4000, 6000, 8000, 10000], "format": "d", "gridColor": {"condition": {"test": "datum.value == 0 || datum.value == 10000", "value": "black"}, "value": "#b0b0b0"}}}, "y2": {"field": "hi"}}},
       {"data": {"name": "spk"}, "transform": [{"filter": "datum.h == '13'"}], "mark": {"type": "square", "size": 15, "opacity": 1},
        "encoding": {"y": {"field": "y", "type": "quantitative", "title": "range [m]"}}}
     ]},
    {"title": "Hour: 14", "width": 409.5, "height": 369.3,
     "encoding": {
       "x": {"field": "x", "type": "quantitative", "title": "range [m]", "scale": {"domain": [-10000, 10000]}, "axis": {"values": [-10000, -5000, 0, 5000, 10000], "format": "d", "gridColor": {"condition": {"test": "abs(datum.value) == 10000", "value": "black"}, "value": "#b0b0b0"}}},
       "color": {"field": "z", "type": "quantitative", "scale": {"domain": [-0.1, 0.351, 0.4125, 1.294, 1.335, 1.4375, 2.524, 2.565, 2.606, 3.549, 3.631, 4], "range": ["#000080", "#0000ff", "#0000ff", "#00dbff", "#00e5f7", "#14ffe2", "#eeff08", "#f7f500", "#ffec00", "#ff1300", "#e80000", "#800000"]}, "legend": {"title": "ZDR[dB]", "values": [0, 1, 2, 3, 4], "format": "d", "encoding": {"title": {"angle": {"value": 270}, "baseline": {"value": "top"}}}}}
     },
     "layer": [
       {"data": {"name": "wedge"}, "transform": [{"filter": "datum.h == '14'"}], "mark": "area",
        "encoding": {"y": {"field": "lo", "type": "quantitative", "title": "range [m]", "scale": {"domain": [0, 10000]}, "axis": {"values": [0, 2000, 4000, 6000, 8000, 10000], "format": "d", "gridColor": {"condition": {"test": "datum.value == 0 || datum.value == 10000", "value": "black"}, "value": "#b0b0b0"}}}, "y2": {"field": "hi"}}},
       {"data": {"name": "spk"}, "transform": [{"filter": "datum.h == '14'"}], "mark": {"type": "square", "size": 15, "opacity": 1},
        "encoding": {"y": {"field": "y", "type": "quantitative", "title": "range [m]"}}}
     ]},
    {"title": "Hour: 15", "width": 409.5, "height": 369.3,
     "encoding": {
       "x": {"field": "x", "type": "quantitative", "title": "range [m]", "scale": {"domain": [-10000, 10000]}, "axis": {"values": [-10000, -5000, 0, 5000, 10000], "format": "d", "gridColor": {"condition": {"test": "abs(datum.value) == 10000", "value": "black"}, "value": "#b0b0b0"}}},
       "color": {"field": "z", "type": "quantitative", "scale": {"domain": [-0.1, 0.351, 0.4125, 1.294, 1.335, 1.4375, 2.524, 2.565, 2.606, 3.549, 3.631, 4], "range": ["#000080", "#0000ff", "#0000ff", "#00dbff", "#00e5f7", "#14ffe2", "#eeff08", "#f7f500", "#ffec00", "#ff1300", "#e80000", "#800000"]}, "legend": {"title": "ZDR[dB]", "values": [0, 1, 2, 3, 4], "format": "d", "encoding": {"title": {"angle": {"value": 270}, "baseline": {"value": "top"}}}}}
     },
     "layer": [
       {"data": {"name": "spk"}, "transform": [{"filter": "datum.h == '15'"}], "mark": {"type": "square", "size": 15, "opacity": 1},
        "encoding": {"y": {"field": "y", "type": "quantitative", "title": "range [m]", "scale": {"domain": [0, 10000]}, "axis": {"values": [0, 2000, 4000, 6000, 8000, 10000], "format": "d", "gridColor": {"condition": {"test": "datum.value == 0 || datum.value == 10000", "value": "black"}, "value": "#b0b0b0"}}}}}
     ]},
    {"title": "Hour: 16", "width": 409.5, "height": 369.3,
     "encoding": {
       "x": {"field": "x", "type": "quantitative", "title": "range [m]", "scale": {"domain": [-10000, 10000]}, "axis": {"values": [-10000, -5000, 0, 5000, 10000], "format": "d", "gridColor": {"condition": {"test": "abs(datum.value) == 10000", "value": "black"}, "value": "#b0b0b0"}}},
       "color": {"field": "z", "type": "quantitative", "scale": {"domain": [-0.1, 0.351, 0.4125, 1.294, 1.335, 1.4375, 2.524, 2.565, 2.606, 3.549, 3.631, 4], "range": ["#000080", "#0000ff", "#0000ff", "#00dbff", "#00e5f7", "#14ffe2", "#eeff08", "#f7f500", "#ffec00", "#ff1300", "#e80000", "#800000"]}, "legend": {"title": "ZDR[dB]", "values": [0, 1, 2, 3, 4], "format": "d", "encoding": {"title": {"angle": {"value": 270}, "baseline": {"value": "top"}}}}}
     },
     "layer": [
       {"data": {"name": "spk"}, "transform": [{"filter": "datum.h == '16'"}], "mark": {"type": "square", "size": 9, "opacity": 1},
        "encoding": {"y": {"field": "y", "type": "quantitative", "title": "range [m]", "scale": {"domain": [0, 10000]}, "axis": {"values": [0, 2000, 4000, 6000, 8000, 10000], "format": "d", "gridColor": {"condition": {"test": "datum.value == 0 || datum.value == 10000", "value": "black"}, "value": "#b0b0b0"}}}}}
     ]},
    {"title": "Hour: 17", "width": 409.5, "height": 369.3,
     "encoding": {
       "x": {"field": "x", "type": "quantitative", "title": "range [m]", "scale": {"domain": [-10000, 10000]}, "axis": {"values": [-10000, -5000, 0, 5000, 10000], "format": "d", "gridColor": {"condition": {"test": "abs(datum.value) == 10000", "value": "black"}, "value": "#b0b0b0"}}},
       "color": {"field": "z", "type": "quantitative", "scale": {"domain": [-0.1, 0.351, 0.4125, 1.294, 1.335, 1.4375, 2.524, 2.565, 2.606, 3.549, 3.631, 4], "range": ["#000080", "#0000ff", "#0000ff", "#00dbff", "#00e5f7", "#14ffe2", "#eeff08", "#f7f500", "#ffec00", "#ff1300", "#e80000", "#800000"]}, "legend": {"title": "ZDR[dB]", "values": [0, 1, 2, 3, 4], "format": "d", "encoding": {"title": {"angle": {"value": 270}, "baseline": {"value": "top"}}}}}
     },
     "layer": [
       {"data": {"name": "spk"}, "transform": [{"filter": "datum.h == '17'"}], "mark": {"type": "square", "size": 9, "opacity": 1},
        "encoding": {"y": {"field": "y", "type": "quantitative", "title": "range [m]", "scale": {"domain": [0, 10000]}, "axis": {"values": [0, 2000, 4000, 6000, 8000, 10000], "format": "d", "gridColor": {"condition": {"test": "datum.value == 0 || datum.value == 10000", "value": "black"}, "value": "#b0b0b0"}}}}}
     ]},
    {"width": 511.5, "height": 369.3,
     "data": {"values": []},
     "mark": "point",
     "encoding": {
       "x": {"field": "a", "type": "quantitative", "scale": {"domain": [0, 1]}, "axis": {"values": [0, 0.2, 0.4, 0.6, 0.8, 1], "format": ".1f", "grid": false, "title": null}},
       "y": {"field": "b", "type": "quantitative", "scale": {"domain": [0, 1]}, "axis": {"values": [0, 0.2, 0.4, 0.6, 0.8, 1], "format": ".1f", "grid": false, "title": null}}
     }},
    {"title": "Hour: 19", "width": 409.5, "height": 369.3,
     "encoding": {
       "x": {"field": "x", "type": "quantitative", "title": "range [m]", "scale": {"domain": [-10000, 10000]}, "axis": {"values": [-10000, -5000, 0, 5000, 10000], "format": "d", "gridColor": {"condition": {"test": "abs(datum.value) == 10000", "value": "black"}, "value": "#b0b0b0"}}},
       "color": {"field": "z", "type": "quantitative", "scale": {"domain": [-0.1, 0.351, 0.4125, 1.294, 1.335, 1.4375, 2.524, 2.565, 2.606, 3.549, 3.631, 4], "range": ["#000080", "#0000ff", "#0000ff", "#00dbff", "#00e5f7", "#14ffe2", "#eeff08", "#f7f500", "#ffec00", "#ff1300", "#e80000", "#800000"]}, "legend": {"title": "ZDR[dB]", "values": [0, 1, 2, 3, 4], "format": "d", "encoding": {"title": {"angle": {"value": 270}, "baseline": {"value": "top"}}}}}
     },
     "layer": [
       {"data": {"name": "spk"}, "transform": [{"filter": "datum.h == '19'"}], "mark": {"type": "square", "size": 7, "opacity": 1},
        "encoding": {"y": {"field": "y", "type": "quantitative", "title": "range [m]", "scale": {"domain": [0, 10000]}, "axis": {"values": [0, 2000, 4000, 6000, 8000, 10000], "format": "d", "gridColor": {"condition": {"test": "datum.value == 0 || datum.value == 10000", "value": "black"}, "value": "#b0b0b0"}}}}}
     ]},
    {"title": "Hour: 20", "width": 409.5, "height": 369.3,
     "encoding": {
       "x": {"field": "x", "type": "quantitative", "title": "range [m]", "scale": {"domain": [-10000, 10000]}, "axis": {"values": [-10000, -5000, 0, 5000, 10000], "format": "d", "gridColor": {"condition": {"test": "abs(datum.value) == 10000", "value": "black"}, "value": "#b0b0b0"}}},
       "color": {"field": "z", "type": "quantitative", "scale": {"domain": [-0.1, 0.351, 0.4125, 1.294, 1.335, 1.4375, 2.524, 2.565, 2.606, 3.549, 3.631, 4], "range": ["#000080", "#0000ff", "#0000ff", "#00dbff", "#00e5f7", "#14ffe2", "#eeff08", "#f7f500", "#ffec00", "#ff1300", "#e80000", "#800000"]}, "legend": {"title": "ZDR[dB]", "values": [0, 1, 2, 3, 4], "format": "d", "encoding": {"title": {"angle": {"value": 270}, "baseline": {"value": "top"}}}}}
     },
     "layer": [
       {"data": {"name": "spk"}, "transform": [{"filter": "datum.h == '20'"}], "mark": {"type": "square", "size": 7, "opacity": 1},
        "encoding": {"y": {"field": "y", "type": "quantitative", "title": "range [m]", "scale": {"domain": [0, 10000]}, "axis": {"values": [0, 2000, 4000, 6000, 8000, 10000], "format": "d", "gridColor": {"condition": {"test": "datum.value == 0 || datum.value == 10000", "value": "black"}, "value": "#b0b0b0"}}}}}
     ]},
    {"width": 511.5, "height": 369.3,
     "data": {"values": []},
     "mark": "point",
     "encoding": {
       "x": {"field": "a", "type": "quantitative", "scale": {"domain": [0, 1]}, "axis": {"values": [0, 0.2, 0.4, 0.6, 0.8, 1], "format": ".1f", "grid": false, "title": null}},
       "y": {"field": "b", "type": "quantitative", "scale": {"domain": [0, 1]}, "axis": {"values": [0, 0.2, 0.4, 0.6, 0.8, 1], "format": ".1f", "grid": false, "title": null}}
     }},
    {"width": 511.5, "height": 369.3,
     "data": {"values": []},
     "mark": "point",
     "encoding": {
       "x": {"field": "a", "type": "quantitative", "scale": {"domain": [0, 1]}, "axis": {"values": [0, 0.2, 0.4, 0.6, 0.8, 1], "format": ".1f", "grid": false, "title": null}},
       "y": {"field": "b", "type": "quantitative", "scale": {"domain": [0, 1]}, "axis": {"values": [0, 0.2, 0.4, 0.6, 0.8, 1], "format": ".1f", "grid": false, "title": null}}
     }},
    {"width": 511.5, "height": 369.3,
     "data": {"values": []},
     "mark": "point",
     "encoding": {
       "x": {"field": "a", "type": "quantitative", "scale": {"domain": [0, 1]}, "axis": {"values": [0, 0.2, 0.4, 0.6, 0.8, 1], "format": ".1f", "grid": false, "title": null}},
       "y": {"field": "b", "type": "quantitative", "scale": {"domain": [0, 1]}, "axis": {"values": [0, 0.2, 0.4, 0.6, 0.8, 1], "format": ".1f", "grid": false, "title": null}}
     }}
  ],
  "resolve": {"scale": {"color": "independent"}, "legend": {"color": "independent"}},
  "config": {
    "font": "DejaVu Sans",
    "view": {"stroke": "black", "strokeWidth": 1.9},
    "area": {"interpolate": "linear"},
    "axis": {
      "domainColor": "black", "domainWidth": 1.9,
      "tickColor": "black", "tickWidth": 1.9, "tickSize": 8.3,
      "labelFont": "DejaVu Sans", "labelFontSize": 23.8, "labelColor": "black", "labelPadding": 8.3,
      "labelFlush": false, "labelOverlap": false,
      "titleFont": "DejaVu Sans", "titleFontSize": 23.8, "titleFontWeight": "normal", "titleColor": "black", "titlePadding": 9.4,
      "gridColor": "#b0b0b0", "gridWidth": 1.9, "gridOpacity": 1,
      "zindex": 1
    },
    "title": {"font": "DejaVu Sans", "fontSize": 28.5, "fontWeight": "normal", "color": "black", "offset": -4, "baseline": "alphabetic", "anchor": "middle", "frame": "group"},
    "legend": {
      "orient": "right", "offset": 24.8, "padding": 0,
      "gradientLength": 369.3, "gradientThickness": 18.8,
      "gradientStrokeColor": "black", "gradientStrokeWidth": 1.9,
      "labelFont": "DejaVu Sans", "labelFontSize": 23.8, "labelColor": "black", "labelOffset": 17.7, "labelBaseline": "middle", "labelOverlap": false,
      "titleFont": "DejaVu Sans", "titleFontSize": 23.8, "titleFontWeight": "normal", "titleColor": "black",
      "titleOrient": "right", "titleAnchor": "middle", "titlePadding": 10
    }
  }
}
